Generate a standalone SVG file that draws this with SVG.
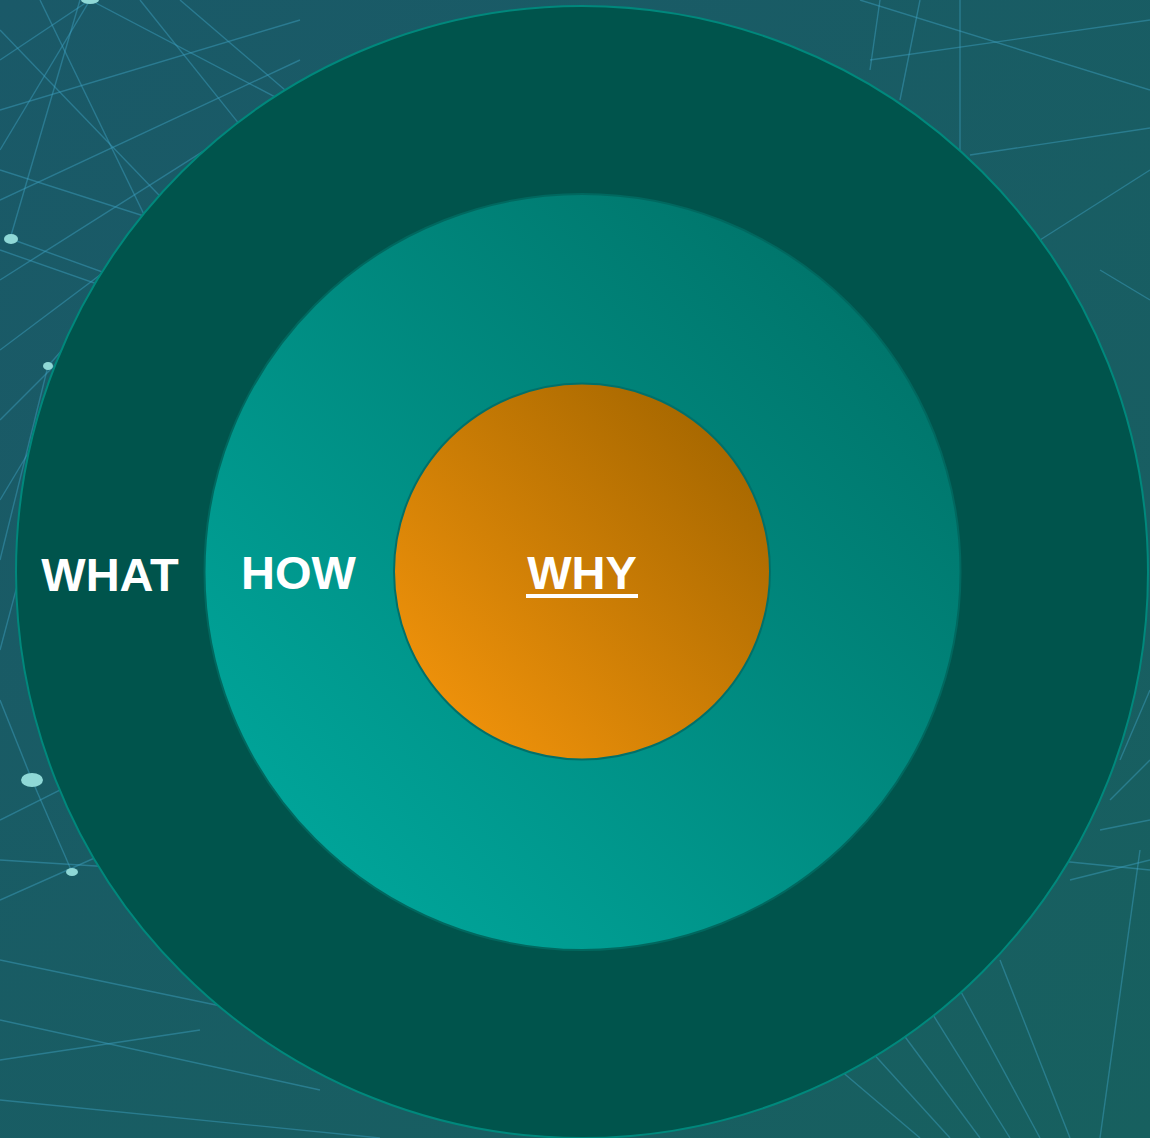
<svg xmlns="http://www.w3.org/2000/svg" width="1150" height="1138" viewBox="0 0 1150 1138">
<defs>
<linearGradient id="bg" x1="0" y1="0" x2="1" y2="1">
<stop offset="0" stop-color="#1a5968"/>
<stop offset="1" stop-color="#17605f"/>
</linearGradient>
<linearGradient id="mid" x1="0.15" y1="0.85" x2="0.85" y2="0.15">
<stop offset="0" stop-color="#00a398"/>
<stop offset="1" stop-color="#00766c"/>
</linearGradient>
<linearGradient id="core" x1="0.15" y1="0.85" x2="0.85" y2="0.15">
<stop offset="0" stop-color="#ec900a"/>
<stop offset="1" stop-color="#a96900"/>
</linearGradient>
<style>
.net line{stroke:#3fa3c4;stroke-width:1.4;opacity:0.45}
.dot{fill:#8fd8d6}
.lbl{font-family:"Liberation Sans",Arial,sans-serif;font-weight:bold;font-size:47px;fill:#ffffff}
</style>
</defs>
<rect width="1150" height="1138" fill="url(#bg)"/>
<g class="net">
<line x1="90" y1="0" x2="0" y2="150"/>
<line x1="90" y1="0" x2="300" y2="110"/>
<line x1="90" y1="0" x2="0" y2="60"/>
<line x1="80" y1="0" x2="10" y2="239"/>
<line x1="0" y1="110" x2="300" y2="20"/>
<line x1="0" y1="200" x2="300" y2="60"/>
<line x1="0" y1="280" x2="300" y2="90"/>
<line x1="0" y1="30" x2="260" y2="300"/>
<line x1="40" y1="0" x2="200" y2="330"/>
<line x1="140" y1="0" x2="300" y2="200"/>
<line x1="180" y1="0" x2="320" y2="120"/>
<line x1="0" y1="350" x2="280" y2="140"/>
<line x1="0" y1="420" x2="230" y2="190"/>
<line x1="0" y1="170" x2="250" y2="250"/>
<line x1="0" y1="250" x2="200" y2="320"/>
<line x1="11" y1="239" x2="180" y2="300"/>
<line x1="0" y1="500" x2="120" y2="300"/>
<line x1="48" y1="366" x2="0" y2="560"/>
<line x1="48" y1="366" x2="150" y2="250"/>
<line x1="0" y1="650" x2="40" y2="500"/>
<line x1="32" y1="780" x2="0" y2="700"/>
<line x1="32" y1="780" x2="72" y2="872"/>
<line x1="0" y1="820" x2="120" y2="760"/>
<line x1="0" y1="860" x2="160" y2="870"/>
<line x1="0" y1="900" x2="180" y2="820"/>
<line x1="0" y1="960" x2="240" y2="1010"/>
<line x1="0" y1="1020" x2="320" y2="1090"/>
<line x1="0" y1="1060" x2="200" y2="1030"/>
<line x1="0" y1="1100" x2="380" y2="1138"/>
<line x1="860" y1="0" x2="1150" y2="90"/>
<line x1="870" y1="60" x2="1150" y2="20"/>
<line x1="960" y1="0" x2="960" y2="150"/>
<line x1="920" y1="0" x2="900" y2="100"/>
<line x1="880" y1="0" x2="870" y2="70"/>
<line x1="970" y1="155" x2="1150" y2="128"/>
<line x1="1040" y1="240" x2="1150" y2="170"/>
<line x1="1150" y1="300" x2="1100" y2="270"/>
<line x1="1150" y1="690" x2="1120" y2="760"/>
<line x1="1150" y1="760" x2="1110" y2="800"/>
<line x1="1150" y1="820" x2="1100" y2="830"/>
<line x1="1140" y1="850" x2="1100" y2="1138"/>
<line x1="1000" y1="960" x2="1070" y2="1138"/>
<line x1="960" y1="990" x2="1040" y2="1138"/>
<line x1="930" y1="1010" x2="1010" y2="1138"/>
<line x1="900" y1="1030" x2="980" y2="1138"/>
<line x1="870" y1="1050" x2="950" y2="1138"/>
<line x1="840" y1="1070" x2="920" y2="1138"/>
<line x1="1050" y1="860" x2="1150" y2="870"/>
<line x1="1070" y1="880" x2="1150" y2="860"/>
</g>
<ellipse class="dot" cx="90" cy="0" rx="9" ry="4"/>
<ellipse class="dot" cx="11" cy="239" rx="7" ry="5"/>
<ellipse class="dot" cx="48" cy="366" rx="5" ry="4"/>
<ellipse class="dot" cx="32" cy="780" rx="11" ry="7"/>
<ellipse class="dot" cx="72" cy="872" rx="6" ry="4"/>
<g id="what">
<circle cx="582" cy="572" r="566" fill="#00544c" stroke="#00887c" stroke-width="2"/>
<text class="lbl" x="110" y="591" text-anchor="middle" font-size="46">WHAT</text>
</g>
<g id="how">
<circle cx="582.5" cy="572" r="378" fill="url(#mid)" stroke="#00685f" stroke-width="2"/>
<text class="lbl" x="298.5" y="589" text-anchor="middle">HOW</text>
</g>
<g id="why">
<circle cx="582" cy="571.5" r="188" fill="url(#core)" stroke="#00706a" stroke-width="2"/>
<text class="lbl" x="582" y="589" text-anchor="middle">WHY</text>
<rect x="526" y="594" width="112" height="4" fill="#ffffff"/>
</g>
</svg>
